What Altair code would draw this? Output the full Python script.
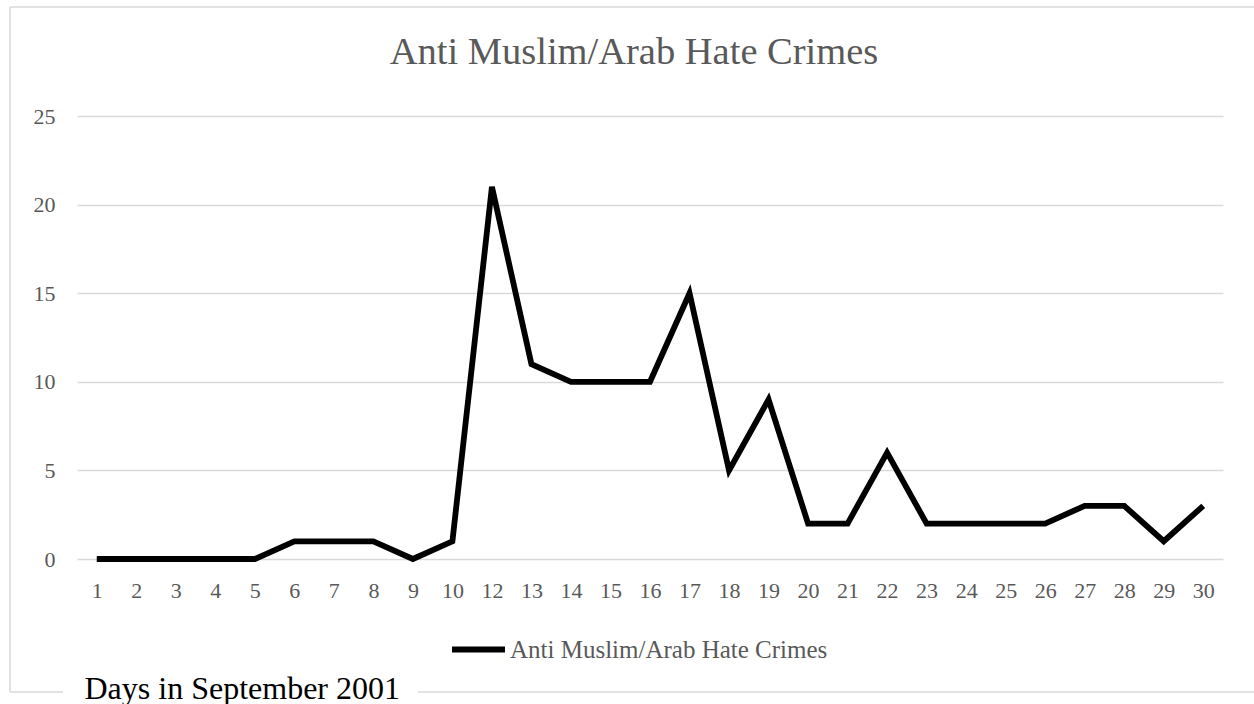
import altair as alt
import pandas as pd

days = [1, 2, 3, 4, 5, 6, 7, 8, 9, 10, 12, 13, 14, 15, 16, 17, 18, 19, 20,
        21, 22, 23, 24, 25, 26, 27, 28, 29, 30]
crimes = [0, 0, 0, 0, 0, 1, 1, 1, 0, 1, 21, 11, 10, 10, 10, 15, 5, 9, 2,
          2, 6, 2, 2, 2, 2, 3, 3, 1, 3]
series_name = "Anti Muslim/Arab Hate Crimes"
chart_title = "Anti Muslim/Arab Hate Crimes"
x_title = "Days in September 2001"
y_ticks = [0, 5, 10, 15, 20, 25]

df = pd.DataFrame({"day": days, "crimes": crimes, "series": [series_name] * len(days)})

SERIF = "Liberation Serif"
GRAY = "#595959"
GRID = "#d9d9d9"

W, H = 1146, 443

line = alt.Chart(df).mark_line(strokeWidth=5.8, strokeJoin="miter", strokeCap="butt").encode(
    x=alt.X("day:O", scale=alt.Scale(padding=0.5),
            axis=alt.Axis(title=x_title, labelAngle=0, ticks=False, domain=False, grid=False,
                          labelFont=SERIF, labelFontSize=22, labelColor=GRAY, labelPadding=21,
                          titleFont=SERIF, titleFontSize=32, titleFontWeight="normal",
                          titleColor="black", titleAnchor="start", titleAlign="left",
                          titleBaseline="alphabetic", titleX=7, titleY=139)),
    y=alt.Y("crimes:Q", scale=alt.Scale(domain=[0, 25], nice=False),
            axis=alt.Axis(title=None, values=y_ticks, ticks=False, domain=False,
                          labelFont=SERIF, labelFontSize=22, labelColor=GRAY, labelPadding=22,
                          gridColor=GRID, gridWidth=1.5)),
    color=alt.Color("series:N", scale=alt.Scale(range=["black"]),
                    legend=alt.Legend(title=None, orient="none", legendX=372, legendY=504,
                                      symbolType="stroke", symbolSize=2809, symbolStrokeWidth=5.8,
                                      labelFont=SERIF, labelFontSize=25, labelColor=GRAY,
                                      labelLimit=0, labelOffset=2, padding=0)),
)

title_df = pd.DataFrame({"t": [chart_title]})
title = alt.Chart(title_df).mark_text(font=SERIF, fontSize=38.5, color=GRAY, align="center",
                                      baseline="alphabetic").encode(
    text="t:N", x=alt.value(557), y=alt.value(-52))

dummy = pd.DataFrame({"a": [0]})
bc = alt.Chart(dummy).mark_rule(color=GRID, strokeWidth=1.5)
top_b = bc.encode(x=alt.value(-67), x2=alt.value(1250), y=alt.value(-109))
left_b = bc.encode(x=alt.value(-67), y=alt.value(-109), y2=alt.value(576))
bot1 = bc.encode(x=alt.value(-67), x2=alt.value(-14), y=alt.value(576))
bot2 = bc.encode(x=alt.value(341), x2=alt.value(1250), y=alt.value(576))

chart = alt.layer(top_b, left_b, bot1, bot2, title, line).properties(
    width=W, height=H,
    background="white",
    autosize=alt.AutoSizeParams(type="none"),
    padding={"left": 77, "top": 116, "right": 31, "bottom": 145},
).configure_view(strokeWidth=0, stroke="transparent")

chart.save("out.html", embed_options={"renderer": "svg", "actions": False})
